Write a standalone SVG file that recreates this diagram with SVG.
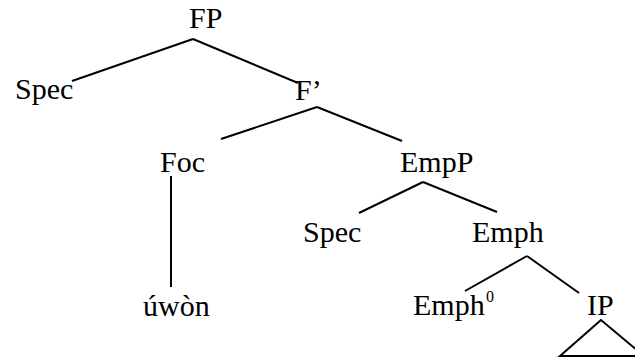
<svg xmlns="http://www.w3.org/2000/svg" width="635" height="358" viewBox="0 0 635 358">
<style>
.e{stroke:#000;stroke-width:2;fill:none}
.t{font-family:'Liberation Serif','DejaVu Serif','Times New Roman',serif;font-size:30px;fill:#000}
.s{font-family:'Liberation Serif','DejaVu Serif','Times New Roman',serif;font-size:16px;fill:#000}
</style>
<rect width="635" height="358" fill="#fff"/>
<g id="connectors">
<line class="e" x1="193" y1="39" x2="72" y2="81"/>
<line class="e" x1="193" y1="39" x2="298" y2="83"/>
<line class="e" x1="317" y1="107" x2="221" y2="139"/>
<line class="e" x1="317" y1="107" x2="402" y2="141"/>
<line class="e" x1="171" y1="176" x2="171" y2="287"/>
<line class="e" x1="423" y1="182" x2="359" y2="213"/>
<line class="e" x1="423" y1="182" x2="497" y2="212"/>
<line class="e" x1="527" y1="256" x2="465" y2="291"/>
<line class="e" x1="527" y1="256" x2="579" y2="293"/>
<polygon class="e" points="601,320 560,356 644,356"/>
</g>
<g id="FP"><text class="t" x="189" y="28">FP</text></g>
<g id="Spec1"><text class="t" x="15" y="99">Spec</text></g>
<g id="Fbar"><text class="t" x="295" y="100">F’</text></g>
<g id="Foc"><text class="t" x="160" y="172">Foc</text></g>
<g id="EmpP"><text class="t" x="400" y="172">EmpP</text></g>
<g id="Spec2"><text class="t" x="303" y="242">Spec</text></g>
<g id="Emph"><text class="t" x="472" y="242">Emph</text></g>
<g id="uwon"><text class="t" x="143" y="316">úwòn</text></g>
<g id="Emph0"><text class="t" x="413" y="315">Emph</text><text class="s" x="486" y="302">0</text></g>
<g id="IP"><text class="t" x="587" y="315">IP</text></g>
</svg>
